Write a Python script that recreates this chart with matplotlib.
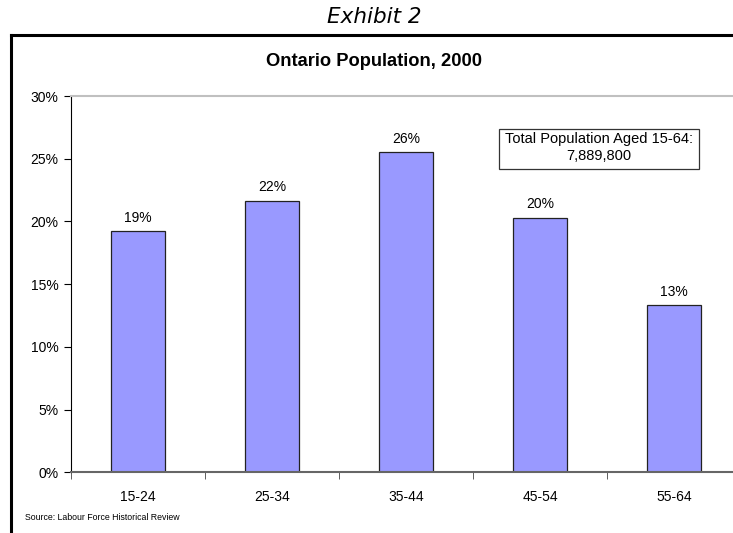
import matplotlib.pyplot as plt
from matplotlib.lines import Line2D
from matplotlib.patches import Rectangle

age_groups = ["15-24", "25-34", "35-44", "45-54", "55-64"]
population_share = [19.2, 21.6, 25.5, 20.3, 13.3]
share_labels = ["19%", "22%", "26%", "20%", "13%"]
y_ticks = [0, 5, 10, 15, 20, 25, 30]

plt.rcParams['font.family'] = ['Liberation Sans', 'DejaVu Sans']

fig = plt.figure(figsize=(7.33, 5.33), dpi=100)
W, H = 733, 533

# outer frame (top and left edges only show)
fig.add_artist(Line2D([11 / W, 1], [1 - 35 / H, 1 - 35 / H], color='black', lw=2.2))
fig.add_artist(Line2D([11 / W, 11 / W], [0, 1 - 35 / H], color='black', lw=2.2))

fig.text(374 / W, 1 - 17 / H, "Exhibit 2", ha='center', va='center',
         fontsize=15.5, style='italic', family='DejaVu Sans')
fig.text(374 / W, 1 - 62 / H, "Ontario Population, 2000", ha='center', va='center',
         fontsize=13.2, weight='bold')

ax = fig.add_axes([71 / W, 60.7 / H, 670 / W, 376.3 / H])
x = range(len(age_groups))
bars = ax.bar(x, population_share, width=0.4, color='#9999ff',
              edgecolor='#222222', linewidth=0.9)
for xi, val, lab in zip(x, population_share, share_labels):
    ax.annotate(lab, (xi, val), xytext=(0, 5), textcoords='offset points',
                ha='center', va='bottom', fontsize=10)

ax.set_xlim(-0.5, 4.5)
ax.set_ylim(0, 30)
ax.set_yticks(y_ticks)
ax.set_yticklabels([f"{t}%" for t in y_ticks], fontsize=10)
ax.set_xticks(list(x))
ax.set_xticklabels(age_groups, fontsize=10)
ax.set_xticks([i - 0.5 for i in range(len(age_groups) + 1)], minor=True)
ax.tick_params(axis='x', which='major', length=0, pad=13)
ax.tick_params(axis='x', which='minor', length=5, color='#444444')
ax.tick_params(axis='y', length=5, pad=4)

ax.spines['right'].set_visible(False)
ax.spines['top'].set_color('#c0c0c0')
ax.spines['top'].set_linewidth(1.5)
ax.spines['bottom'].set_color('#666666')
ax.spines['bottom'].set_linewidth(1.5)
ax.spines['left'].set_color('black')

# total population note
fig.add_artist(Rectangle((499 / W, 1 - 169 / H), 200 / W, 40 / H,
                         facecolor='white', edgecolor='#333333', linewidth=0.9))
fig.text(599 / W, 1 - 139 / H, "Total Population Aged 15-64:",
         ha='center', va='center', fontsize=10.5)
fig.text(599 / W, 1 - 156 / H, "7,889,800",
         ha='center', va='center', fontsize=10.5)

fig.text(25 / W, 1 - 517 / H, "Source: Labour Force Historical Review",
         ha='left', va='center', fontsize=6.3)

fig.savefig("out.png", dpi=100)
